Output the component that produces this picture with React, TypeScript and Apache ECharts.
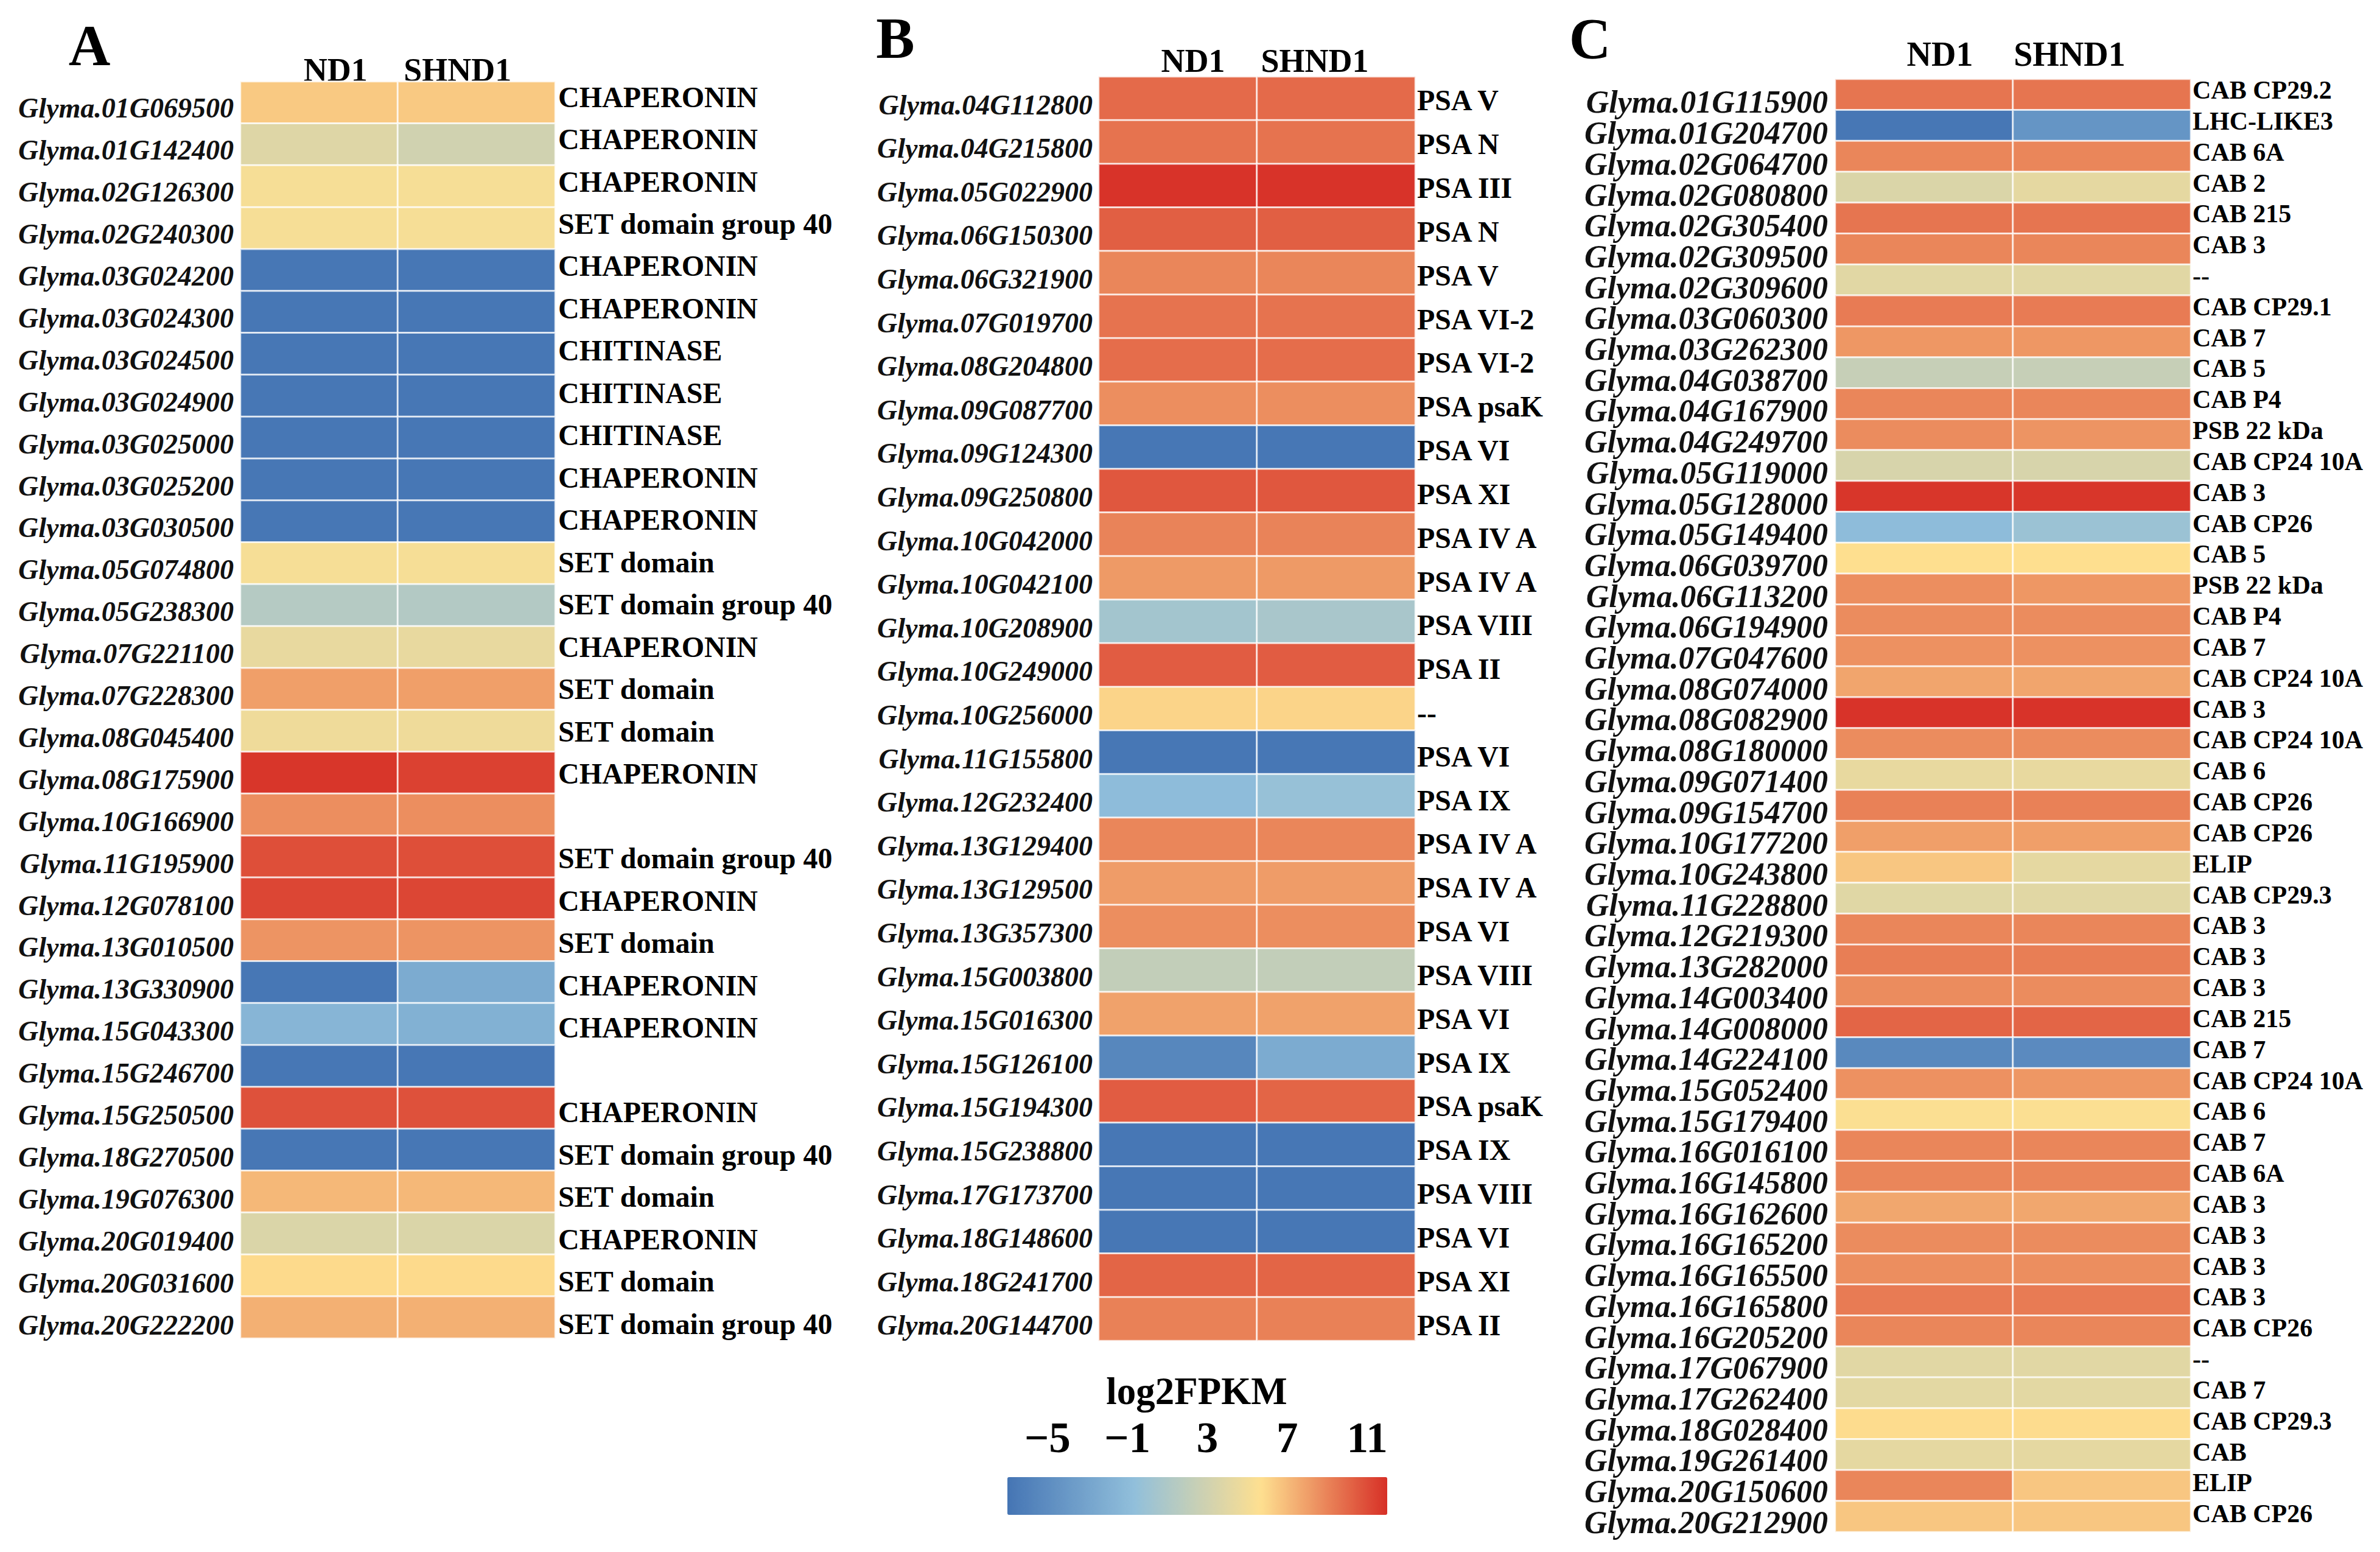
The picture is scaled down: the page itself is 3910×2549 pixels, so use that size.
import React, { useEffect, useRef } from "react";
import * as echarts from "echarts";

// ---------- data ----------
const columns = ["ND1", "SHND1"];

const genesA = [
  "Glyma.01G069500", "Glyma.01G142400", "Glyma.02G126300", "Glyma.02G240300", "Glyma.03G024200",
  "Glyma.03G024300", "Glyma.03G024500", "Glyma.03G024900", "Glyma.03G025000", "Glyma.03G025200",
  "Glyma.03G030500", "Glyma.05G074800", "Glyma.05G238300", "Glyma.07G221100", "Glyma.07G228300",
  "Glyma.08G045400", "Glyma.08G175900", "Glyma.10G166900", "Glyma.11G195900", "Glyma.12G078100",
  "Glyma.13G010500", "Glyma.13G330900", "Glyma.15G043300", "Glyma.15G246700", "Glyma.15G250500",
  "Glyma.18G270500", "Glyma.19G076300", "Glyma.20G019400", "Glyma.20G031600", "Glyma.20G222200",
];
const annotA = [
  "CHAPERONIN", "CHAPERONIN", "CHAPERONIN", "SET domain group 40", "CHAPERONIN",
  "CHAPERONIN", "CHITINASE", "CHITINASE", "CHITINASE", "CHAPERONIN",
  "CHAPERONIN", "SET domain", "SET domain group 40", "CHAPERONIN", "SET domain",
  "SET domain", "CHAPERONIN", "", "SET domain group 40", "CHAPERONIN",
  "SET domain", "CHAPERONIN", "CHAPERONIN", "", "CHAPERONIN",
  "SET domain group 40", "SET domain", "CHAPERONIN", "SET domain", "SET domain group 40",
];
const nd1A = [6.5, 3.8, 5.2, 5.2, -6.8, -6.8, -6.8, -6.8, -6.8, -6.8, -6.8, 5.2, 1.4, 4.4, 8.0, 4.8, 11.8, 8.6, 10.9, 11.2, 8.4, -6.8, -1.5, -6.8, 10.8, -6.8, 7.1, 3.6, 5.9, 7.4];
const shnd1A = [6.5, 3.0, 5.2, 5.2, -6.8, -6.8, -6.8, -6.8, -6.8, -6.8, -6.8, 5.2, 1.3, 4.4, 8.0, 4.8, 11.4, 8.6, 10.9, 11.2, 8.4, -2.4, -1.9, -6.8, 10.8, -6.8, 7.1, 3.6, 5.9, 7.4];

const genesB = [
  "Glyma.04G112800", "Glyma.04G215800", "Glyma.05G022900", "Glyma.06G150300", "Glyma.06G321900",
  "Glyma.07G019700", "Glyma.08G204800", "Glyma.09G087700", "Glyma.09G124300", "Glyma.09G250800",
  "Glyma.10G042000", "Glyma.10G042100", "Glyma.10G208900", "Glyma.10G249000", "Glyma.10G256000",
  "Glyma.11G155800", "Glyma.12G232400", "Glyma.13G129400", "Glyma.13G129500", "Glyma.13G357300",
  "Glyma.15G003800", "Glyma.15G016300", "Glyma.15G126100", "Glyma.15G194300", "Glyma.15G238800",
  "Glyma.17G173700", "Glyma.18G148600", "Glyma.18G241700", "Glyma.20G144700",
];
const annotB = [
  "PSA V", "PSA N", "PSA III", "PSA N", "PSA V",
  "PSA VI-2", "PSA VI-2", "PSA psaK", "PSA VI", "PSA XI",
  "PSA IV A", "PSA IV A", "PSA VIII", "PSA II", "--",
  "PSA VI", "PSA IX", "PSA IV A", "PSA IV A", "PSA VI",
  "PSA VIII", "PSA VI", "PSA IX", "PSA psaK", "PSA IX",
  "PSA VIII", "PSA VI", "PSA XI", "PSA II",
];
const nd1B = [9.9, 9.6, 11.9, 10.3, 8.9, 9.6, 9.8, 8.6, -6.8, 10.6, 9.0, 8.2, 0.4, 10.4, 6.1, -6.8, -0.9, 8.9, 8.1, 8.6, 2.2, 7.9, -5.5, 10.4, -6.8, -6.8, -6.8, 10.1, 9.1];
const shnd1B = [9.9, 9.6, 11.9, 10.3, 8.9, 9.6, 9.8, 8.6, -6.8, 10.6, 9.0, 8.2, 0.7, 10.4, 6.1, -6.8, -0.3, 8.9, 8.1, 8.6, 2.2, 7.9, -2.4, 10.1, -6.8, -6.8, -6.8, 10.1, 9.1];

const genesC = [
  "Glyma.01G115900", "Glyma.01G204700", "Glyma.02G064700", "Glyma.02G080800", "Glyma.02G305400",
  "Glyma.02G309500", "Glyma.02G309600", "Glyma.03G060300", "Glyma.03G262300", "Glyma.04G038700",
  "Glyma.04G167900", "Glyma.04G249700", "Glyma.05G119000", "Glyma.05G128000", "Glyma.05G149400",
  "Glyma.06G039700", "Glyma.06G113200", "Glyma.06G194900", "Glyma.07G047600", "Glyma.08G074000",
  "Glyma.08G082900", "Glyma.08G180000", "Glyma.09G071400", "Glyma.09G154700", "Glyma.10G177200",
  "Glyma.10G243800", "Glyma.11G228800", "Glyma.12G219300", "Glyma.13G282000", "Glyma.14G003400",
  "Glyma.14G008000", "Glyma.14G224100", "Glyma.15G052400", "Glyma.15G179400", "Glyma.16G016100",
  "Glyma.16G145800", "Glyma.16G162600", "Glyma.16G165200", "Glyma.16G165500", "Glyma.16G165800",
  "Glyma.16G205200", "Glyma.17G067900", "Glyma.17G262400", "Glyma.18G028400", "Glyma.19G261400",
  "Glyma.20G150600", "Glyma.20G212900",
];
const annotC = [
  "CAB CP29.2", "LHC-LIKE3", "CAB 6A", "CAB 2", "CAB 215",
  "CAB 3", "--", "CAB CP29.1", "CAB 7", "CAB 5",
  "CAB P4", "PSB 22 kDa", "CAB CP24 10A", "CAB 3", "CAB CP26",
  "CAB 5", "PSB 22 kDa", "CAB P4", "CAB 7", "CAB CP24 10A",
  "CAB 3", "CAB CP24 10A", "CAB 6", "CAB CP26", "CAB CP26",
  "ELIP", "CAB CP29.3", "CAB 3", "CAB 3", "CAB 3",
  "CAB 215", "CAB 7", "CAB CP24 10A", "CAB 6", "CAB 7",
  "CAB 6A", "CAB 3", "CAB 3", "CAB 3", "CAB 3",
  "CAB CP26", "--", "CAB 7", "CAB CP29.3", "CAB",
  "ELIP", "CAB CP26",
];
const nd1C = [9.5, -6.8, 8.9, 3.6, 9.5, 8.9, 4.0, 9.3, 8.3, 2.4, 8.9, 8.7, 3.4, 11.8, -0.9, 5.7, 8.6, 8.7, 8.5, 7.8, 11.9, 8.7, 4.4, 9.1, 8.0, 6.6, 3.9, 8.9, 9.2, 8.7, 10.1, -5.3, 8.5, 5.5, 8.9, 8.9, 7.7, 8.7, 8.6, 9.3, 8.9, 4.0, 4.1, 5.8, 4.2, 8.9, 6.6];
const shnd1C = [9.5, -4.3, 8.9, 4.2, 9.5, 8.9, 4.0, 9.3, 8.3, 2.4, 8.9, 8.4, 3.4, 11.8, -0.1, 5.7, 8.3, 8.7, 8.5, 7.8, 11.9, 8.7, 4.4, 9.1, 8.0, 4.2, 4.0, 8.9, 9.2, 8.7, 10.1, -5.2, 8.3, 5.5, 8.9, 8.9, 7.7, 8.7, 8.6, 9.3, 8.9, 4.0, 4.1, 5.8, 4.2, 6.6, 6.6];

const colorbarTicks = [-5, -1, 3, 7, 11];
const colorbarMin = -7;
const colorbarMax = 12;
const palette = ["#4575b4", "#91bfdb", "#fee090", "#d73027"];
const colorbarTitle = "log2FPKM";

// ---------- layout ----------
const FONT = '"Liberation Serif", "Times New Roman", serif';

const panels = [
  {
    letter: "A", letterX: 147, letterY: 75,
    genes: genesA, annot: annotA, nd1: nd1A, sh: shnd1A,
    cell: { left: 395, top: 134, width: 517, height: 2064 },
    leftLab: { top: 143.5, height: 2067 }, rightLab: { top: 124.3, height: 2084.5 },
    geneFont: 46, annotFont: 48, headerFont: 54, headerMargin: 19, headerPad: [54, 62],
    leftMargin: 11, rightMargin: 5,
  },
  {
    letter: "B", letterX: 1471, letterY: 63,
    genes: genesB, annot: annotB, nd1: nd1B, sh: shnd1B,
    cell: { left: 1805, top: 126, width: 520, height: 2076 },
    leftLab: { top: 136.2, height: 2076.4 }, rightLab: { top: 129, height: 2083 },
    geneFont: 46, annotFont: 48, headerFont: 54, headerMargin: 26, headerPad: [50, 70],
    leftMargin: 10, rightMargin: 3,
  },
  {
    letter: "C", letterX: 2612, letterY: 64,
    genes: genesC, annot: annotC, nd1: nd1C, sh: shnd1C,
    cell: { left: 3015, top: 130, width: 584, height: 2386 },
    leftLab: { top: 142.6, height: 2383 }, rightLab: { top: 122.6, height: 2389 },
    geneFont: 52, annotFont: 42, headerFont: 56, headerMargin: 41, headerPad: [52, 106],
    leftMargin: 12, rightMargin: 3,
  },
];

function buildOption() {
  const grid: any[] = [];
  const xAxis: any[] = [];
  const yAxis: any[] = [];
  const series: any[] = [];
  const graphic: any[] = [];

  panels.forEach((p, pi) => {
    const g0 = pi * 3;
    grid.push({ left: p.cell.left, top: p.cell.top, width: p.cell.width, height: p.cell.height, containLabel: false });
    grid.push({ left: p.cell.left, top: p.leftLab.top, width: p.cell.width, height: p.leftLab.height, containLabel: false });
    grid.push({ left: p.cell.left, top: p.rightLab.top, width: p.cell.width, height: p.rightLab.height, containLabel: false });

    const headerStyle = { fontSize: p.headerFont, fontWeight: "bold", fontFamily: FONT, color: "#000" };
    xAxis.push({
      type: "category", gridIndex: g0, data: columns, position: "top",
      axisLine: { show: false }, axisTick: { show: false }, splitLine: { show: false },
      axisLabel: {
        interval: 0, margin: p.headerMargin, verticalAlign: "middle",
        formatter: (v: string) => (v === columns[0] ? `{a|${v}}` : `{b|${v}}`),
        rich: {
          a: { ...headerStyle, padding: [0, 0, 0, p.headerPad[0]] },
          b: { ...headerStyle, padding: [0, p.headerPad[1], 0, 0] },
        },
      },
    });
    xAxis.push({ type: "value", gridIndex: g0 + 1, show: false });
    xAxis.push({ type: "value", gridIndex: g0 + 2, show: false });

    yAxis.push({ type: "category", gridIndex: g0, data: p.genes, inverse: true, show: false });
    yAxis.push({
      type: "category", gridIndex: g0 + 1, data: p.genes, inverse: true, position: "left",
      axisLine: { show: false }, axisTick: { show: false }, splitLine: { show: false },
      axisLabel: {
        interval: 0, margin: p.leftMargin, fontSize: p.geneFont, fontStyle: "italic",
        fontWeight: "bold", fontFamily: FONT, color: "#111",
      },
    });
    yAxis.push({
      type: "category", gridIndex: g0 + 2, data: p.annot, inverse: true, position: "right",
      axisLine: { show: false }, axisTick: { show: false }, splitLine: { show: false },
      axisLabel: {
        interval: 0, margin: p.rightMargin, fontSize: p.annotFont,
        fontWeight: "bold", fontFamily: FONT, color: "#000",
      },
    });

    const data: any[] = [];
    p.genes.forEach((_, i) => {
      data.push([0, i, p.nd1[i]]);
      data.push([1, i, p.sh[i]]);
    });
    series.push({
      type: "heatmap", xAxisIndex: g0, yAxisIndex: g0, data,
      itemStyle: { borderColor: "rgba(255,255,255,0.75)", borderWidth: 3 },
      emphasis: { disabled: true },
    });

    graphic.push({
      type: "text", x: p.letterX, y: p.letterY,
      style: { text: p.letter, font: `bold 95px ${FONT}`, fill: "#000", textAlign: "center", textVerticalAlign: "middle" },
    });
  });

  // colorbar tick axis
  grid.push({ left: 1655, top: 2360, width: 624, height: 1, containLabel: false });
  xAxis.push({
    type: "value", gridIndex: 9, min: colorbarMin, max: colorbarMax, position: "bottom",
    axisLine: { show: false }, axisTick: { show: false }, splitLine: { show: false },
    axisLabel: {
      customValues: colorbarTicks, margin: 0, verticalAlign: "middle",
      fontSize: 71, fontWeight: "bold", fontFamily: FONT, color: "#000",
      formatter: (v: number) => (v < 0 ? "\u2212" + Math.abs(v) : String(v)),
    },
  });
  yAxis.push({ type: "value", gridIndex: 9, show: false });

  graphic.push({
    type: "text", x: 1966, y: 2285,
    style: { text: colorbarTitle, font: `bold 63px ${FONT}`, fill: "#000", textAlign: "center", textVerticalAlign: "middle" },
  });

  return {
    animation: false,
    backgroundColor: "#ffffff",
    grid, xAxis, yAxis, series, graphic,
    visualMap: {
      type: "continuous", min: colorbarMin, max: colorbarMax, orient: "horizontal",
      left: 1655, top: 2426, itemWidth: 62, itemHeight: 624, padding: 0,
      calculable: false, hoverLink: false, inRange: { color: palette },
      textStyle: { color: "transparent" },
    },
  };
}

export default function App() {
  const ref = useRef<HTMLDivElement>(null);
  useEffect(() => {
    document.body.style.margin = "0";
    const chart = echarts.init(ref.current!, undefined, { renderer: "svg" });
    chart.setOption(buildOption() as any);
    return () => chart.dispose();
  }, []);
  return <div ref={ref} style={{ width: 3910, height: 2549 }} />;
}
